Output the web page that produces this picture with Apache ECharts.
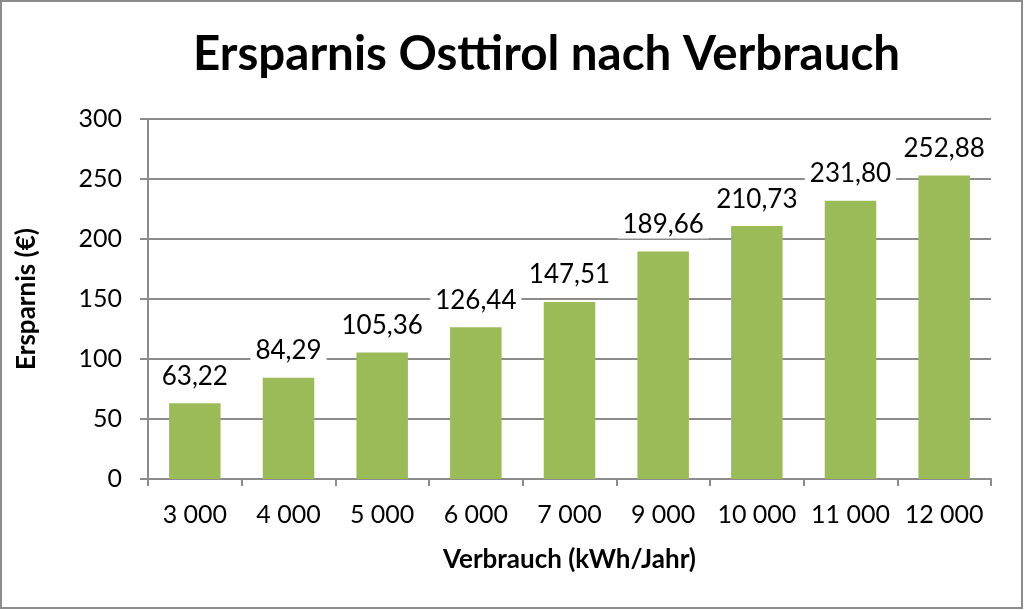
<!DOCTYPE html>
<html><head><meta charset="utf-8">
<script src="https://cdn.jsdelivr.net/npm/echarts@6/dist/echarts.min.js"></script>
<style>html,body{margin:0;padding:0;background:#fff}#c{width:1024px;height:610px}</style>
</head><body><div id="c"></div>
<script>
const categories = ['3 000','4 000','5 000','6 000','7 000','9 000','10 000','11 000','12 000'];
const savings = [63.22, 84.29, 105.36, 126.44, 147.51, 189.66, 210.73, 231.80, 252.88];
const yTicks = [0, 50, 100, 150, 200, 250, 300];

const chart = echarts.init(document.getElementById('c'));
const FONT = 'Lato';
chart.setOption({
  animation: false,
  backgroundColor: '#fff',
  graphic: [{type:'rect', shape:{x:1,y:1,width:1021,height:607}, style:{fill:'none', stroke:'#8c8c8c', lineWidth:2}}],
  title: {text:'Ersparnis Osttirol nach Verbrauch', left:188, top:26,
    textStyle:{fontFamily:FONT, fontWeight:'bold', fontSize:47.5, color:'#000'}},
  grid: {left:148, right:33, top:119, bottom:131},
  xAxis: {type:'category', data:categories, name:'Verbrauch (kWh/Jahr)', nameLocation:'middle', nameGap:68,
    nameTextStyle:{fontFamily:FONT, fontWeight:'bold', fontSize:26, color:'#000'},
    axisLine:{lineStyle:{color:'#8c8c8c', width:2}},
    axisTick:{show:true, interval:0, length:7, lineStyle:{color:'#8c8c8c', width:2}},
    axisLabel:{interval:0, fontFamily:FONT, fontSize:25, color:'#000', margin:23}},
  yAxis: {type:'value', min:0, max:300, interval:50, name:'Ersparnis (€)', nameLocation:'middle', nameGap:108,
    nameTextStyle:{fontFamily:FONT, fontWeight:'bold', fontSize:26, color:'#000'},
    axisLine:{show:true, lineStyle:{color:'#8c8c8c', width:2}},
    axisTick:{show:true, length:8, lineStyle:{color:'#8c8c8c', width:2}},
    splitLine:{lineStyle:{color:'#8c8c8c', width:2}},
    axisLabel:{fontFamily:FONT, fontSize:25, color:'#000', margin:26,
      formatter: v => yTicks.includes(v) ? String(v) : ''}},
  series: [{type:'bar', data:savings, barWidth:'55%', itemStyle:{color:'#9bbb59'},
    label:{show:true, position:'top', distance:13, fontFamily:FONT, fontSize:26, color:'#000',
      backgroundColor:'#fff', padding:[1,5],
      formatter: p => p.value.toFixed(2).replace('.', ',')}}]
});
</script></body></html>
